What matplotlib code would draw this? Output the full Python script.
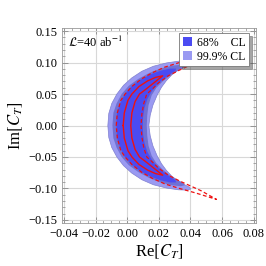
import numpy as np
import matplotlib
matplotlib.use('Agg')
import matplotlib.pyplot as plt
from matplotlib.patches import Polygon, Patch
from matplotlib.ticker import MultipleLocator

# ---- data: upper-half contour boundaries (Re, Im); lower half is the mirror image ----
# 99.9% CL region: outer edge (Im=0 -> tip), then inner edge (tip -> Im=0)
cl999_re = [-0.0122, -0.0116, -0.0097, -0.0065, -0.0023, 0.0029, 0.0093, 0.0166, 0.0250, 0.0324, 0.0376, 0.0402,
            0.0393, 0.0360, 0.0320, 0.0282, 0.0248, 0.0217, 0.0190, 0.0163, 0.0146, 0.0137]
cl999_im = [0.0, 0.0191, 0.0351, 0.0500, 0.0638, 0.0756, 0.0862, 0.0942, 0.0995, 0.1022, 0.1027, 0.1011,
            0.0979, 0.0937, 0.0878, 0.0804, 0.0713, 0.0607, 0.0484, 0.0324, 0.0165, 0.0]
# intermediate band
clmid_re = [-0.0093, -0.0087, -0.0067, -0.0035, 0.0010, 0.0070, 0.0140, 0.0210, 0.0280, 0.0340, 0.0365,
            0.0355, 0.0315, 0.0270, 0.0225, 0.0185, 0.0155, 0.0135, 0.0127, 0.0124]
clmid_im = [0.0, 0.0200, 0.0350, 0.0500, 0.0630, 0.0740, 0.0835, 0.0905, 0.0950, 0.0965, 0.0950,
            0.0910, 0.0860, 0.0790, 0.0700, 0.0600, 0.0480, 0.0320, 0.0160, 0.0]
# 68% CL region
cl68_re = [-0.0069, -0.0064, -0.0045, -0.0015, 0.0030, 0.0085, 0.0150, 0.0210, 0.0270, 0.0310,
           0.0305, 0.0275, 0.0230, 0.0190, 0.0155, 0.0128, 0.0110, 0.0101, 0.0099]
cl68_im = [0.0, 0.0200, 0.0350, 0.0500, 0.0630, 0.0730, 0.0815, 0.0870, 0.0905, 0.0905,
           0.0870, 0.0820, 0.0740, 0.0650, 0.0540, 0.0420, 0.0280, 0.0140, 0.0]
# red solid curve
solid_re = [-0.0025, -0.0018, 0.0005, 0.0030, 0.0075, 0.0130, 0.0180, 0.0225,
            0.0190, 0.0150, 0.0115, 0.0078, 0.0050, 0.0030, 0.0023]
solid_im = [0.0, 0.020, 0.040, 0.050, 0.062, 0.071, 0.0765, 0.079,
            0.072, 0.064, 0.057, 0.050, 0.038, 0.020, 0.0]
# red dashed curve
dash_re = [-0.0069, -0.0062, -0.0040, -0.0013, 0.0030, 0.0090, 0.0160, 0.0240, 0.0330, 0.0430, 0.0565,
           0.0470, 0.0400, 0.0330, 0.0260, 0.0200, 0.0155, 0.0124, 0.0105, 0.0093, 0.0088]
dash_im = [0.0, 0.020, 0.040, 0.050, 0.062, 0.074, 0.084, 0.093, 0.100, 0.107, 0.1175,
           0.1040, 0.0960, 0.0880, 0.0790, 0.0680, 0.0570, 0.0500, 0.0350, 0.0180, 0.0]

x_ticks = [-0.04, -0.02, 0.00, 0.02, 0.04, 0.06, 0.08]
y_ticks = [-0.15, -0.10, -0.05, 0.00, 0.05, 0.10, 0.15]
legend_labels = ['68%    CL', '99.9% CL']


def closed(re, im):
    re = np.asarray(re); im = np.asarray(im)
    xs = np.concatenate([re, re[::-1]])
    ys = np.concatenate([im, -im[::-1]])
    return np.column_stack([xs, ys])


plt.rcParams['font.family'] = ['Liberation Serif', 'DejaVu Serif']
plt.rcParams['mathtext.fontset'] = 'stix'

fig = plt.figure(figsize=(2.66, 2.66), dpi=100)
ax = fig.add_axes([62/266, 43/266, 194/266, 195/266])
ax.set_xlim(-0.0412, 0.0815)
ax.set_ylim(-0.155, 0.155)

ax.set_xticks(x_ticks)
ax.set_yticks(y_ticks)
ax.xaxis.set_minor_locator(MultipleLocator(0.005))
ax.yaxis.set_minor_locator(MultipleLocator(0.01))
ax.grid(True, which='major', color='#d8d8d8', lw=0.8, zorder=0)
ax.axhline(0, color='#555555', lw=0.7, zorder=1)
ax.axvline(0, color='#555555', lw=0.7, zorder=1)

c_light = '#9a9af2'
c_mid = '#7070d4'
c_dark = '#4b4bf2'
ax.add_patch(Polygon(closed(cl999_re, cl999_im), closed=True, fc=c_light, ec='#8080d0', lw=0.5, zorder=2))
ax.add_patch(Polygon(closed(clmid_re, clmid_im), closed=True, fc=c_mid, ec='none', zorder=3))
ax.add_patch(Polygon(closed(cl68_re, cl68_im), closed=True, fc=c_dark, ec='none', zorder=4))

sp = closed(solid_re, solid_im)
ax.plot(np.append(sp[:, 0], sp[0, 0]), np.append(sp[:, 1], sp[0, 1]), color='#ee1111', lw=1.0, zorder=5)
dp = closed(dash_re, dash_im)
ax.plot(np.append(dp[:, 0], dp[0, 0]), np.append(dp[:, 1], dp[0, 1]), color='#ee1111', lw=0.9,
        ls=(0, (3, 2)), zorder=5)

ax.tick_params(which='both', direction='in', top=True, right=True, colors='#888888',
               labelcolor='black', labelsize=9)
ax.tick_params(which='major', length=4, width=0.6)
ax.tick_params(which='minor', length=2, width=0.5)
ax.set_xticklabels(['\u22120.04', '\u22120.02', '0.00', '0.02', '0.04', '0.06', '0.08'])
ax.set_yticklabels(['\u22120.15', '\u22120.10', '\u22120.05', '0.00', '0.05', '0.10', '0.15'])
for s in ax.spines.values():
    s.set_color('#999999')
    s.set_linewidth(0.6)

ax.set_xlabel(r'Re$[C_T]$', fontsize=12, labelpad=2)
ax.set_ylabel(r'Im$[C_T]$', fontsize=12, labelpad=2)

ax.text(0.03, 0.965, r'$\mathcal{L}$=40 ab$^{-1}$', transform=ax.transAxes, ha='left', va='top', fontsize=9)

handles = [Patch(fc=c_dark, ec='none'), Patch(fc=c_light, ec='none')]
leg = ax.legend(handles, legend_labels, loc='upper right', bbox_to_anchor=(0.966, 0.973), fontsize=8.5,
                frameon=True, fancybox=False, shadow=True, handlelength=0.8, handleheight=0.8,
                handletextpad=0.4, borderpad=0.3, labelspacing=0.15, borderaxespad=0)
leg.get_frame().set_edgecolor('#777777')
leg.get_frame().set_linewidth(0.6)
leg.set_zorder(10)

fig.savefig('out.png', dpi=100)
